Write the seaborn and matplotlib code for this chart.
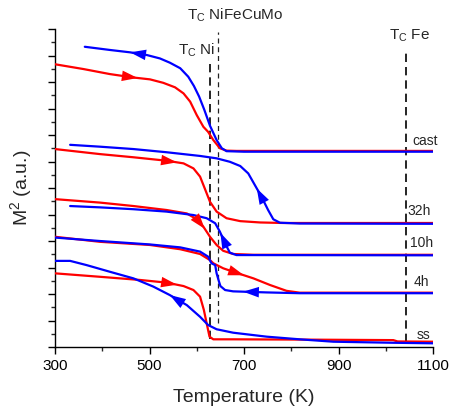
import numpy as np
import matplotlib
matplotlib.use("Agg")
import matplotlib.pyplot as plt
import seaborn as sns
from matplotlib.ticker import MultipleLocator, NullFormatter

# ---- data (temperature in K, M^2 in a.u.) ----
cast_heat_T = [300, 360, 416, 466, 501, 529, 554, 572, 586, 600, 614, 624, 635, 649, 663, 684, 800, 1100]
cast_heat_M = [10.67, 10.49, 10.30, 10.17, 10.10, 9.97, 9.80, 9.57, 9.26, 8.75, 8.31, 8.12, 7.81, 7.50, 7.41, 7.40, 7.40, 7.40]
cast_cool_T = [363, 416, 459, 494, 522, 543, 565, 582, 594, 605, 616, 628, 642, 653, 663, 700, 1100]
cast_cool_M = [11.33, 11.21, 11.12, 11.02, 10.89, 10.73, 10.52, 10.20, 9.85, 9.45, 8.95, 8.35, 7.81, 7.50, 7.39, 7.37, 7.37]

h32_heat_T = [300, 395, 466, 536, 572, 593, 607, 617, 628, 642, 663, 692, 734, 783, 1100]
h32_heat_M = [7.47, 7.28, 7.16, 7.03, 6.93, 6.74, 6.43, 5.98, 5.48, 5.11, 4.86, 4.75, 4.70, 4.68, 4.68]
h32_cool_T = [332, 395, 466, 536, 607, 642, 670, 692, 709, 723, 737, 751, 762, 776, 818, 1100]
h32_cool_M = [7.63, 7.56, 7.47, 7.35, 7.21, 7.12, 6.99, 6.83, 6.55, 6.11, 5.67, 5.17, 4.82, 4.69, 4.66, 4.65]

h10_heat_T = [300, 395, 466, 536, 579, 600, 614, 628, 642, 656, 677, 720, 1100]
h10_heat_M = [5.58, 5.45, 5.32, 5.17, 5.04, 4.82, 4.54, 4.16, 3.85, 3.63, 3.51, 3.48, 3.48]
h10_cool_T = [332, 395, 466, 536, 593, 621, 639, 649, 660, 670, 684, 1100]
h10_cool_M = [5.32, 5.27, 5.20, 5.11, 4.98, 4.86, 4.67, 4.35, 3.91, 3.56, 3.47, 3.46]

h4_heat_T = [300, 395, 501, 565, 607, 628, 635, 656, 684, 720, 755, 790, 818, 1100]
h4_heat_M = [4.16, 3.97, 3.85, 3.69, 3.51, 3.28, 3.16, 2.97, 2.80, 2.59, 2.34, 2.12, 2.05, 2.05]
h4_cool_T = [300, 395, 501, 565, 607, 624, 631, 639, 642, 646, 650, 660, 677, 748, 818, 1100]
h4_cool_M = [4.13, 4.00, 3.87, 3.76, 3.60, 3.41, 3.16, 3.09, 2.78, 2.53, 2.30, 2.15, 2.10, 2.06, 2.03, 2.03]

ss_heat_T = [300, 395, 480, 536, 572, 593, 607, 615, 621, 627, 635, 677, 818, 1016, 1025, 1100]
ss_heat_M = [2.78, 2.65, 2.53, 2.43, 2.30, 2.15, 1.90, 1.40, 0.89, 0.39, 0.29, 0.29, 0.28, 0.26, 0.21, 0.20]
ss_cool_T = [300, 332, 367, 416, 466, 508, 543, 579, 607, 624, 642, 677, 748, 818, 889, 1016, 1100]
ss_cool_M = [3.25, 3.25, 3.09, 2.84, 2.59, 2.28, 1.96, 1.58, 1.14, 0.83, 0.67, 0.54, 0.39, 0.29, 0.20, 0.16, 0.14]

sample_names = ['cast', '32h', '10h', '4h', 'ss']
curie_T = [627, 645, 1043]          # Ni, NiFeCuMo, Fe
curie_names = ['Ni', 'NiFeCuMo', 'Fe']
x_ticks = [300, 500, 700, 900, 1100]

# ---- style ----
sns.set_style('ticks')
plt.rcParams['font.family'] = ['Liberation Sans', 'DejaVu Sans']
plt.rcParams['mathtext.fontset'] = 'custom'
plt.rcParams['mathtext.rm'] = 'Liberation Sans'

RED = '#ff0000'
BLUE = '#0000ff'

fig = plt.figure(figsize=(4.52, 4.07), dpi=100)
ax = fig.add_axes([0.1217, 0.1474, 0.8363, 0.7813])

heat = [(cast_heat_T, cast_heat_M), (h32_heat_T, h32_heat_M), (h10_heat_T, h10_heat_M),
        (h4_heat_T, h4_heat_M), (ss_heat_T, ss_heat_M)]
cool = [(cast_cool_T, cast_cool_M), (h32_cool_T, h32_cool_M), (h10_cool_T, h10_cool_M),
        (h4_cool_T, h4_cool_M), (ss_cool_T, ss_cool_M)]

for (T, M) in heat:
    sns.lineplot(x=T, y=M, color=RED, lw=1.6, sort=False, estimator=None, ax=ax, zorder=3)
for (T, M) in cool:
    sns.lineplot(x=T, y=M, color=BLUE, lw=1.6, sort=False, estimator=None, ax=ax, zorder=4)

# arrows: (tail T, tip T) along each curve
heat_arrows = [(440, 475), (530, 558), (606, 617), (665, 700), (525, 558)]
cool_arrows = [(495, 459), (744, 727), (666, 650), (735, 698), (585, 543)]


def add_arrow(T, M, t0, t1, col):
    y0 = np.interp(t0, T, M)
    y1 = np.interp(t1, T, M)
    ax.annotate('', xy=(t1, y1), xytext=(t0, y0),
                arrowprops=dict(arrowstyle='-|>,head_length=0.6,head_width=0.2',
                                color=col, lw=0, mutation_scale=19,
                                shrinkA=0, shrinkB=0), zorder=5)


for (T, M), (a, b) in zip(heat, heat_arrows):
    add_arrow(T, M, a, b, RED)
for (T, M), (a, b) in zip(cool, cool_arrows):
    add_arrow(T, M, a, b, BLUE)

# Curie temperature markers
ax.plot([curie_T[0]] * 2, [0.3, 10.8], color='k', lw=1.2, ls=(0, (5, 3)), zorder=2)
ax.plot([curie_T[1]] * 2, [0.9, 11.9], color='#222222', lw=0.9, ls=(0, (4, 3)), zorder=2)
ax.plot([curie_T[2]] * 2, [0.2, 11.2], color='k', lw=1.2, ls=(0, (5, 3)), zorder=2)

ax.text(600, 11.2, r'T$_\mathregular{C}$ ' + curie_names[0], fontsize=11, ha='center', va='center')
ax.text(681, 12.53, r'T$_\mathregular{C}$ ' + curie_names[1], fontsize=11, ha='center',
        va='center', clip_on=False)
ax.text(1051, 11.74, r'T$_\mathregular{C}$ ' + curie_names[2], fontsize=11, ha='center', va='center')

label_pos = [(1056, 7.77), (1045, 5.13), (1051, 3.92), (1058, 2.45), (1066, 0.45)]
for name, (tx, ty) in zip(sample_names, label_pos):
    ax.text(tx, ty, name, fontsize=10, ha='left', va='center')

ax.set_xlim(300, 1100)
ax.set_ylim(0, 12)
ax.set_xticks(x_ticks)
ax.xaxis.set_minor_locator(MultipleLocator(100))
ax.yaxis.set_major_locator(MultipleLocator(1))
ax.yaxis.set_minor_locator(MultipleLocator(0.5))
ax.yaxis.set_major_formatter(NullFormatter())
ax.tick_params(axis='both', which='major', direction='out', length=5, width=1, labelsize=11, colors='k')
ax.tick_params(axis='both', which='minor', direction='out', length=3, width=1)
for s in ['left', 'bottom']:
    ax.spines[s].set_linewidth(1)
    ax.spines[s].set_color('k')
sns.despine(ax=ax)

ax.set_xlabel('Temperature (K)', fontsize=14, labelpad=12)
ax.set_ylabel(r'M$^\mathregular{2}$ (a.u.)', fontsize=14, labelpad=6)

fig.savefig('out.png', dpi=100)
